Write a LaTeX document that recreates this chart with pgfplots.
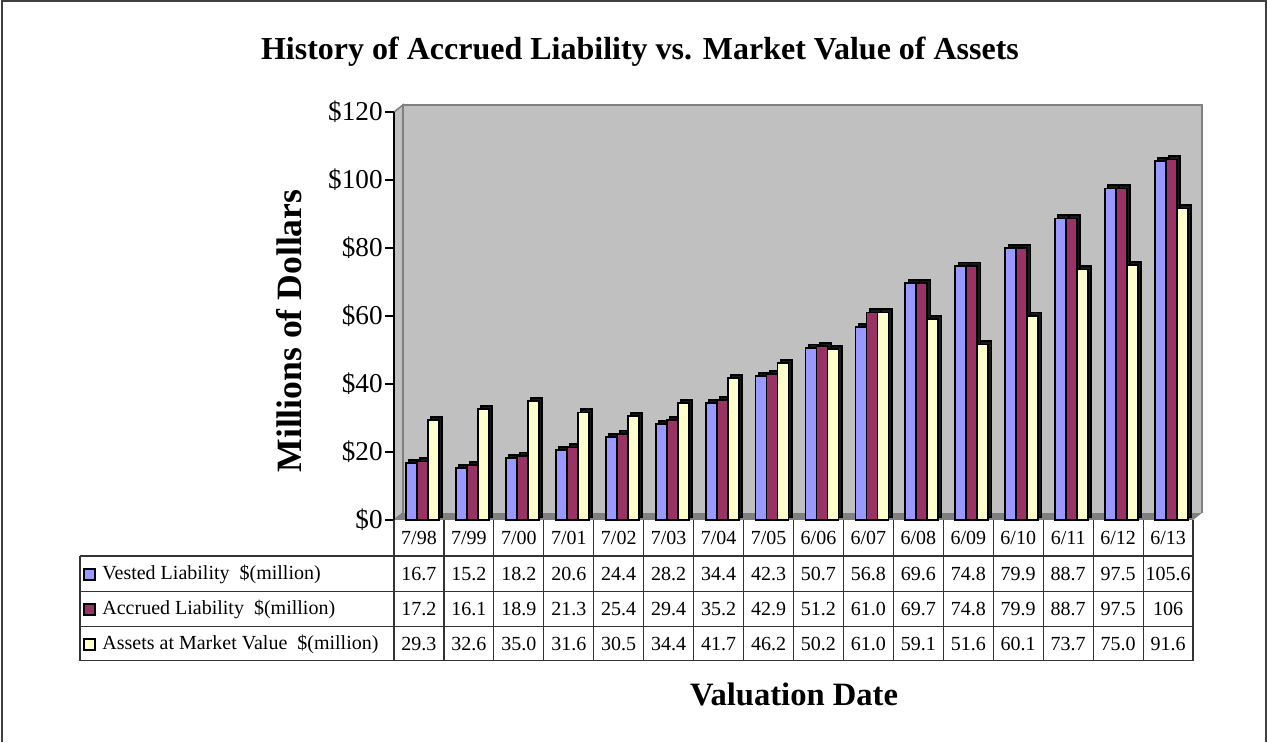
\documentclass[border=0pt]{standalone}
\usepackage{pgfplots}
\pgfplotsset{compat=1.18}
\usepackage{pgfplotstable}
\usepackage{fontspec}
\setmainfont{Liberation Serif}
\definecolor{vest}{HTML}{9999FF}
\definecolor{accr}{HTML}{993366}
\definecolor{asst}{HTML}{FFFFCC}
\definecolor{wallc}{HTML}{C0C0C0}
\definecolor{floorc}{HTML}{808080}

\pgfplotstableread{
idx date vested accrued assets
0  7/98 16.7  17.2 29.3
1  7/99 15.2  16.1 32.6
2  7/00 18.2  18.9 35.0
3  7/01 20.6  21.3 31.6
4  7/02 24.4  25.4 30.5
5  7/03 28.2  29.4 34.4
6  7/04 34.4  35.2 41.7
7  7/05 42.3  42.9 46.2
8  6/06 50.7  51.2 50.2
9  6/07 56.8  61.0 61.0
10 6/08 69.6  69.7 59.1
11 6/09 74.8  74.8 51.6
12 6/10 79.9  79.9 60.1
13 6/11 88.7  88.7 73.7
14 6/12 97.5  97.5 75.0
15 6/13 105.6 106  91.6
}\vals

\pgfplotsset{
  bar3d/.style={ybar, bar width=5.5pt, line width=0.9pt, draw=black},
  depth/.style={bar3d, fill=black!90, xshift=1.6pt, yshift=1.6pt},
  tabrow/.style={draw=none, sharp plot, mark=none,
    nodes near coords={\pgfplotspointmeta}, point meta=explicit symbolic,
    every node near coord/.style={anchor=center, font=\fontsize{10}{12}\selectfont}},
}

\begin{document}
\begin{tikzpicture}
% frame, walls and floor (pixel grid of the reference, y down)
\begin{scope}[x=0.5pt, y=-0.5pt, yshift=371pt]
  \path (0,0) rectangle (1267,742);
  \draw[line width=1pt, black!75] (1.5,742) -- (1.5,1.5) -- (1265.5,1.5) -- (1265.5,742);
  \fill[floorc] (394,520) -- (1193,520) -- (1202,513) -- (403,513) -- cycle;
  \filldraw[fill=wallc, draw=floorc, line width=1.2pt] (403,513) -- (403,105) -- (1202,105) -- (1202,513);
  \filldraw[fill=wallc, draw=floorc, line width=0.8pt] (394,520) -- (394,112) -- (403,105) -- (403,513) -- cycle;
\end{scope}

\begin{axis}[
  at={(197pt,111pt)}, anchor=south west,
  scale only axis, width=399.5pt, height=204pt,
  xmin=-0.5, xmax=15.5, ymin=0, ymax=120,
  clip=false,
  axis line style={draw=none},
  xtick=data, xticklabels from table={\vals}{date},
  xtick style={draw=none},
  xticklabel style={anchor=center, yshift=-4.5pt, font=\fontsize{10}{12}\selectfont},
  ytick={0,20,40,60,80,100,120},
  yticklabels={\$0,\$20,\$40,\$60,\$80,\$100,\$120},
  ytick pos=left,
  ytick style={black, line width=0.6pt},
  tick align=outside, major tick length=4.5pt,
  yticklabel style={font=\fontsize{13.6}{15}\selectfont, inner sep=1pt},
]
% depth of the bars
\addplot[depth, bar shift=-3.75pt] table[x=idx, y=vested] {\vals};
\addplot[depth, bar shift=1.75pt]  table[x=idx, y=accrued] {\vals};
\addplot[depth, bar shift=7.25pt]  table[x=idx, y=assets] {\vals};
% front faces
\addplot[bar3d, fill=vest, bar shift=-3.75pt] table[x=idx, y=vested] {\vals};
\addplot[bar3d, fill=accr, bar shift=1.75pt]  table[x=idx, y=accrued] {\vals};
\addplot[bar3d, fill=asst, bar shift=7.25pt]  table[x=idx, y=assets] {\vals};
% data table rows
\addplot[tabrow] table[x=idx, y expr=-15.88, meta=vested] {\vals};
\addplot[tabrow] table[x=idx, y expr=-26.18, meta=accrued] {\vals};
\addplot[tabrow] table[x=idx, y expr=-36.47, meta=assets] {\vals};
\end{axis}

\begin{scope}[x=0.5pt, y=-0.5pt, yshift=371pt]
  \draw[line width=0.8pt] (394,520) -- (394,112);
  % table grid
  \foreach \k in {0,...,16} \draw[line width=0.6pt, black!80] ({394+49.94*\k},520) -- ({394+49.94*\k},660.7);
  \foreach \yy in {556,591.7,626.7,660.7} \draw[line width=0.6pt, black!80] (80,\yy) -- (1193,\yy);
  \draw[line width=0.6pt, black!80] (80,556) -- (80,660.7);
  % legend keys
  \foreach \c/\col/\lab in {574/vest/{Vested Liability\ \ \$(million)},
                            609/accr/{Accrued Liability\ \ \$(million)},
                            644/asst/{Assets at Market Value\ \ \$(million)}} {
    \filldraw[fill=\col, draw=black, line width=0.9pt] (84,\c-5) rectangle (95,\c+6);
    \node[anchor=west, inner sep=0pt, font=\fontsize{10}{12}\selectfont] at (102,\c) {\lab};
  }
  % titles
  \node[font=\fontsize{16}{19}\selectfont\bfseries] at (640,52) {History of Accrued Liability vs. Market Value of Assets};
  \node[font=\fontsize{17.8}{21}\selectfont\bfseries, rotate=90] at (289.5,331) {Millions of Dollars};
  \node[font=\fontsize{16.3}{20}\selectfont\bfseries] at (794,694) {Valuation Date};
\end{scope}
\end{tikzpicture}
\end{document}
